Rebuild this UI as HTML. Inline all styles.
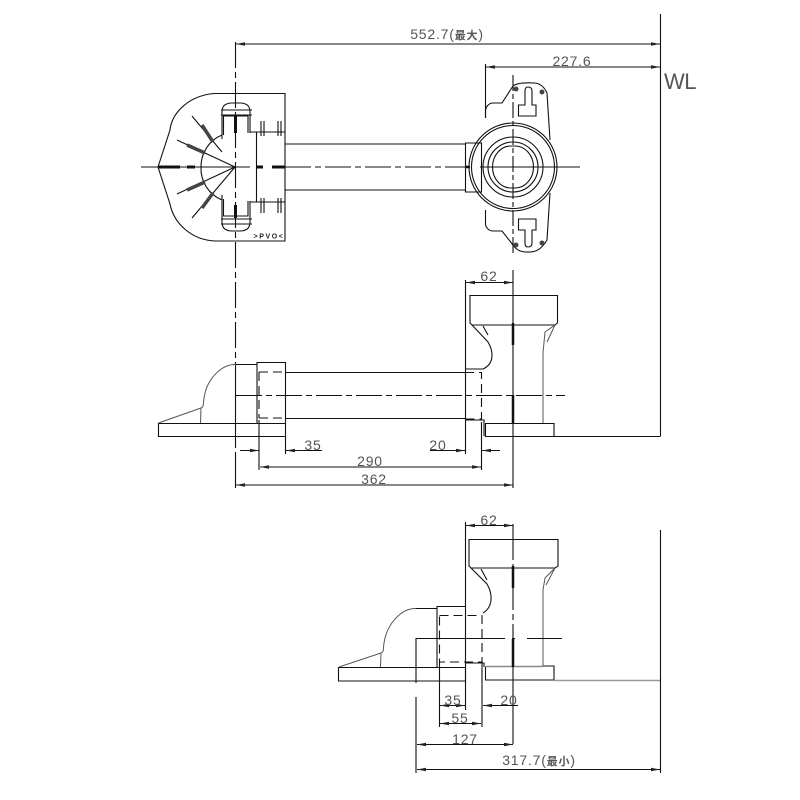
<!DOCTYPE html>
<html><head><meta charset="utf-8"><style>
html,body{margin:0;padding:0;background:#fff}
svg{display:block}
.l{fill:none;stroke:#111;stroke-width:1.1}
.g{fill:none;stroke:#555;stroke-width:1}
.c{fill:none;stroke:#111;stroke-width:1.1;stroke-dasharray:26 4 6 4}
.d{fill:none;stroke:#111;stroke-width:1.1;stroke-dasharray:9 5}
.h{fill:none;stroke:#111;stroke-width:3}
.t{font-family:"Liberation Sans","Noto Sans CJK JP",sans-serif;font-size:14px;fill:#555;text-anchor:middle;letter-spacing:.8px}
</style></head><body>
<svg width="800" height="800" viewBox="0 0 800 800" xmlns="http://www.w3.org/2000/svg">
<defs>
<marker id="a" markerWidth="9" markerHeight="5" refX="9" refY="2.5" orient="auto-start-reverse" markerUnits="userSpaceOnUse"><path d="M0 .8L9 2.5L0 4.2Z" fill="#222"/></marker>
</defs>

<!-- overall extension lines -->
<path class="l" d="M660.5 14V436.5M485.5 64V118"/>
<path class="c" d="M235.5 42V364"/>
<path class="l" d="M235.500 364V448M235.500 452V488"/>
<path class="l" d="M236 44H660" marker-start="url(#a)" marker-end="url(#a)"/>
<path class="l" d="M486 67H660" marker-start="url(#a)" marker-end="url(#a)"/>
<text class="t" x="447" y="39">552.7(<tspan font-size="11" font-weight="bold">最大</tspan>)</text>
<text class="t" x="572" y="66">227.6</text>
<text x="680" y="89" text-anchor="middle" font-family="Liberation Sans,sans-serif" font-size="22" letter-spacing="-.5" fill="#555">WL</text>

<!-- top view: left fitting -->
<path class="l" d="M285 93.5H215C190 95 172 112 170 130L158 167L170 204C174 224 192 240 215 241H285Z"/>
<path class="l" d="M141 167H250"/>
<path class="h" d="M158 167H180M187 167H195M257 167H263M272 167H285"/>
<path class="l" d="M256.500 132V202"/>
<path class="l" d="M222 152L192 116M235 167L177 140M235 167L177 194M235 167L192 218"/>
<path class="l" d="M222 135A34 34 0 0 0 201 167A34 34 0 0 0 222 200"/>
<path d="M202 125L213 142M187 145L205 153M187 190L205 182M202 208L213 193" fill="none" stroke="#444" stroke-width="3.500"/>
<path class="l" d="M222 139V112Q222 103 232 103H240Q250 103 250 112V133M223.500 135V116H248V133M221 110H252M221 115H252"/>
<path class="l" d="M222 195V222Q222 231 232 231H240Q250 231 250 222V201M223.500 199V216H248V201M221 224H252M221 219H252"/>
<path class="l" d="M250 132H285M250 202H285"/>
<path class="l" d="M261 121V136M264 121V136M278 121V136M281 121V136M261 198V213M264 198V213M278 198V213M281 198V213"/>
<path class="h" d="M235.500 115V133M235.500 205V218"/>
<text x="269" y="238.500" text-anchor="middle" font-family="Liberation Sans,sans-serif" font-weight="bold" font-size="7" letter-spacing="1.600" fill="#222">&gt;PVO&lt;</text>

<!-- pipe top view -->
<path class="l" d="M285 144H465M285 190H465"/>
<path class="c" d="M285 167H470"/>

<!-- top view: right fitting -->
<path class="l" d="M465.500 143H481.500V192H465.500Z"/>
<path class="h" d="M465 167H470" style="stroke-width:2.500"/>
<circle class="l" cx="513" cy="167" r="44"/>
<circle class="l" cx="513" cy="167" r="41.500"/>
<circle class="l" cx="513" cy="167" r="30"/>
<circle class="l" cx="513" cy="167" r="25"/>
<path class="l" d="M511 146H515A18.500 21 0 0 1 515 188H511A18.500 21 0 0 1 511 146Z"/>
<path class="l" d="M480 167H580"/>
<path class="l" d="M485.500 118V110Q487 104 492 103H502L513 86Q518 82 535 83Q543 84 547 93L550 140"/>
<path class="l" d="M485.500 210V225Q487 230 492 231H502L513 245Q518 253 530 252Q540 252 547 240L550 193"/>
<path class="c" d="M513 75V256" style="stroke-dasharray:16 3 5 3"/>
<path class="l" d="M528 87Q525 87 525 91V105H518.500V116H536V105H532V91Q532 87 528 87ZM528 247Q525 247 525 243V230H518.500V219H536V230H532V243Q532 247 528 247Z"/>
<circle cx="516" cy="89" r="2.500" fill="#444"/><circle cx="542" cy="92" r="2.500" fill="#444"/>
<circle cx="516" cy="245" r="2.500" fill="#444"/><circle cx="542" cy="243" r="2.500" fill="#444"/>

<!-- middle view -->
<path class="l" d="M158.500 423.500H285.500V436.500H158.500Z"/>
<path class="l" d="M257 423V362.500H285.500V423M236 364.500H257"/>
<path class="g" d="M158.500 423L201 408C204 407 203 405 204 398C207 378 222 364 236 364.500M201 408L200.500 423"/>
<path class="d" d="M259 372H285M259 372V418M259 418H285"/>
<path class="l" d="M285.500 372.500H465M285.500 418.500H465"/>
<path class="l" d="M465.500 369H483.500M465.500 420H484V436"/>
<path class="d" d="M465 372.500H481.500V419H465"/>
<path class="c" d="M236 395.500H565"/>
<path class="l" d="M485.500 423V436.500H554V423.500H485.500"/>
<path class="l" d="M554.500 436.500H660"/>
<path class="l" d="M470 295.500H557.500V323L555 325H472L470 323Z"/>
<path class="l" d="M472 325L488 342C494 352 494 364 483 369M483 326L488 335"/>
<path class="g" d="M555 325L545 332L543 353V423M555 325L547 342"/>
<path class="l" d="M513 270V488"/>
<path d="M513 323V345M513 395V423" fill="none" stroke="#111" stroke-width="2.500"/>
<path class="l" d="M465.500 280V454"/>
<path class="l" d="M466 282.500H513" marker-start="url(#a)" marker-end="url(#a)"/>
<text class="t" x="489" y="281">62</text>
<path class="l" d="M259 420V470M285.500 436V454M481.500 422V470"/>
<path class="l" d="M240 450.500H259" marker-end="url(#a)"/>
<path class="l" d="M286 450.500H322" marker-start="url(#a)"/>
<text class="t" x="313" y="450">35</text>
<path class="l" d="M430 450.500H465" marker-end="url(#a)"/>
<path class="l" d="M482 450.500H500" marker-start="url(#a)"/>
<text class="t" x="438" y="450">20</text>
<path class="l" d="M260 467H481" marker-start="url(#a)" marker-end="url(#a)"/>
<text class="t" x="370" y="466">290</text>
<path class="l" d="M236 485H513" marker-start="url(#a)" marker-end="url(#a)"/>
<text class="t" x="374" y="484">362</text>

<!-- lower view -->
<path class="l" d="M338.500 667.500H465.500V681H338.500Z"/>
<path class="l" d="M437 667V606.500H465.500M416 608.500H437"/>
<path class="g" d="M339 667L381 653C384 652 383 650 384 643C387 623 402 608 416 608.500M381 653L380.500 667"/>
<path class="d" d="M439.500 615.500H482V662H439.500V615.500"/>
<path class="l" d="M465.500 522V710M465 663H484V667"/>
<path class="l" d="M485.500 666.500V680H554V666H543"/>
<path d="M486 666.500H543" fill="none" stroke="#888" stroke-width="1.500"/>
<path d="M554 680.500H660" fill="none" stroke="#999" stroke-width="1.500"/>
<path class="l" d="M660.500 530V773"/>
<path class="l" d="M469 539.500H558V566L555 568H471L469 566Z"/>
<path class="l" d="M471 568L487 584C493 594 493 607 483 613M481 569L487 580"/>
<path class="g" d="M555 568L545 578L543 590V666M555 568L546 585"/>
<path class="c" d="M513 524V640" style="stroke-dasharray:36 4 6 4"/>
<path class="l" d="M513 640V744"/>
<path d="M513 566V588M513 639V667" fill="none" stroke="#111" stroke-width="2.500"/>
<path class="l" d="M416 638.500H505M512 638.500H515M527 638.500H562"/>
<path class="l" d="M416 638V683M416 697V773M439.500 662V727M482 662V727"/>
<path class="l" d="M440 705.500H465" marker-start="url(#a)" marker-end="url(#a)"/>
<path class="l" d="M466 525.500H513" marker-start="url(#a)" marker-end="url(#a)"/>
<text class="t" x="489" y="525">62</text>
<text class="t" x="453" y="705">35</text>
<path class="l" d="M483 705.500H518" marker-start="url(#a)"/>
<text class="t" x="509" y="705">20</text>
<path class="l" d="M440 723.500H481" marker-start="url(#a)" marker-end="url(#a)"/>
<text class="t" x="460" y="723">55</text>
<path class="l" d="M417 744.500H513" marker-start="url(#a)" marker-end="url(#a)"/>
<text class="t" x="465" y="744">127</text>
<path class="l" d="M417 769.500H660" marker-start="url(#a)" marker-end="url(#a)"/>
<text class="t" x="539" y="765">317.7(<tspan font-size="11" font-weight="bold">最小</tspan>)</text>
</svg>
</body></html>
